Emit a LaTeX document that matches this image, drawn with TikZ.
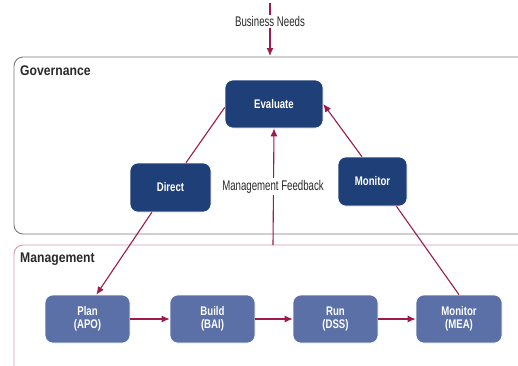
\documentclass[tikz,border=0pt]{standalone}
\usepackage{fontspec}
\setmainfont{Liberation Sans}
\newfontfamily\fntreg[FakeStretch=0.69]{Liberation Sans}
\newfontfamily\fntnode[FakeStretch=0.77]{Liberation Sans}
\newfontfamily\fnthead[FakeStretch=0.87]{Liberation Sans}
\usetikzlibrary{arrows.meta}
\definecolor{govblue}{HTML}{1F3F79}
\definecolor{mgmtblue}{HTML}{5A70A6}
\definecolor{maroon}{HTML}{9E1A4C}
\definecolor{pinkline}{HTML}{D49AAB}
\definecolor{grayline}{HTML}{7A7A7A}
\definecolor{txt}{HTML}{2A2A2A}
\tikzset{
  govbox/.style={draw=white, line width=0.6pt, fill=govblue, rounded corners=8pt, text=white,
    font=\fntnode\fontsize{12.5}{13.5}\selectfont\bfseries, align=center, inner sep=0pt},
  mgmtbox/.style={draw=white, line width=0.6pt, fill=mgmtblue, rounded corners=8pt, text=white,
    font=\fntnode\fontsize{12.5}{13.5}\selectfont\bfseries, align=center, inner sep=0pt,
    minimum height=48pt},
  arr/.style={draw=maroon, line width=1.1pt, -{Latex[length=8pt,width=7pt]}},
  conn/.style={draw=maroon, line width=1.1pt},
  lbl/.style={fill=white, text=txt, font=\fntreg\fontsize{14}{15}\selectfont, inner sep=1.5pt},
  area/.style={font=\fnthead\fontsize{14}{16}\selectfont\bfseries, text=txt, anchor=west, inner sep=0pt}
}
\begin{document}
\begin{tikzpicture}[x=1pt,y=-1pt]
\clip (0,0) rectangle (518,365);
\fill[white] (0,0) rectangle (518,365);
% areas
\draw[grayline, line width=0.9pt, rounded corners=9pt] (14,57) rectangle (540,234);
\draw[pinkline, line width=0.9pt, rounded corners=9pt] (14,245) rectangle (540,390);
\node[area] (govlbl) at (20,71) {Governance};
\node[area] (mgmtlbl) at (20,259) {Management};
% nodes
\node[govbox, minimum width=98pt, minimum height=48pt] (eval) at (274,104) {Evaluate};
\node[govbox, minimum width=81pt, minimum height=49pt] (direct) at (170.5,187.5) {Direct};
\node[govbox, minimum width=69pt, minimum height=49pt] (mon) at (372.5,181.5) {Monitor};
\node[mgmtbox, minimum width=85pt] (plan) at (87.5,319) {Plan\\(APO)};
\node[mgmtbox, minimum width=85pt] (build) at (212.5,319) {Build\\(BAI)};
\node[mgmtbox, minimum width=85pt] (run) at (335.5,319) {Run\\(DSS)};
\node[mgmtbox, minimum width=86pt] (mea) at (459,319) {Monitor\\(MEA)};
% business needs
\coordinate (bntop) at (270,3);
\coordinate (govtop) at (270,56);
\draw[arr] (bntop) -- (govtop);
\node[lbl] (bn) at (270,21.5) {Business Needs};
% management feedback
\coordinate (mgmttop) at (273,245);
\draw[arr] (mgmttop) -- (eval.south);
\node[lbl] (mf) at (273,186.5) {Management Feedback};
% connectors
\draw[conn] (eval.184) -- (direct.58);
\draw[arr] (direct.233) -- (plan.70);
\draw[arr] (mon.113) -- (eval.east);
\draw[conn] (mea.north) -- (mon.-46);
\draw[arr] (plan.east) -- (build.west);
\draw[arr] (build.east) -- (run.west);
\draw[arr] (run.east) -- (mea.west);
\end{tikzpicture}
\end{document}
